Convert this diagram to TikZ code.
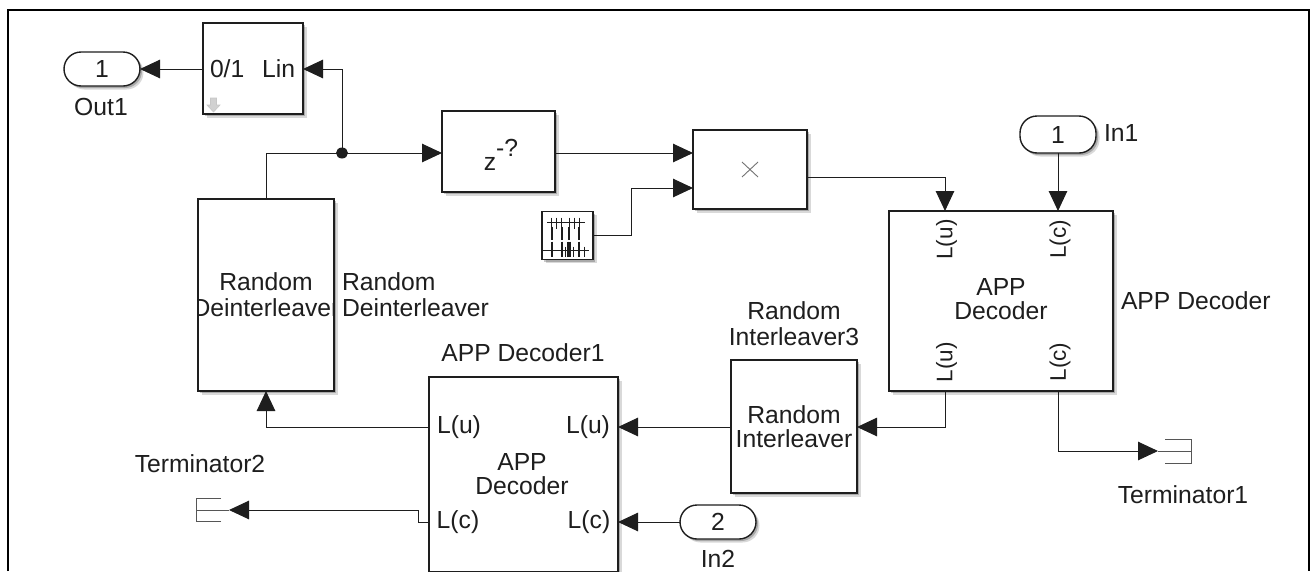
\documentclass[tikz,border=0pt]{standalone}
\usepackage{fontspec}
\setmainfont{Liberation Sans}
\usetikzlibrary{arrows.meta,shadows,calc}
\definecolor{ink}{HTML}{1E1E1E}
\newcommand{\lblfont}{\fontsize{24.7}{27}\selectfont}
\newcommand{\rotfont}{\fontsize{22.5}{24}\selectfont}
\tikzset{
  softshadow/.style={
    general shadow={fill=black,opacity=.15,shadow xshift=3.5pt,shadow yshift=-3.5pt},
    general shadow={fill=black,opacity=.22,shadow xshift=2pt,shadow yshift=-2pt}},
  block/.style={draw=ink,line width=1.7pt,fill=white,inner sep=0pt,outer sep=0pt,softshadow,font=\lblfont,text=ink},
  pill/.style={block,rounded corners=17pt,line width=1.4pt},
  label/.style={inner sep=0pt,outer sep=0pt,font=\lblfont,text=ink,align=center},
  portv/.style={inner sep=0pt,outer sep=0pt,font=\rotfont,text=ink,rotate=90},
  wire/.style={draw=ink,line width=1pt},
  arrowwire/.style={wire,-{Triangle[length=20pt,width=18.5pt]}},
  stub/.style={draw=ink!75,line width=1pt},
  tick/.style={draw=ink,line width=.8pt},
  thick tick/.style={draw=ink,line width=2.2pt}
}
\begin{document}
\begin{tikzpicture}[x=1pt,y=-1pt]
\useasboundingbox (0,0) rectangle (1310,571);
\fill[white] (0,0) rectangle (1310,571);
\draw[black,line width=2.8pt] (8,571) -- (8,10) -- (1309,10) -- (1309,571);

% blocks
\node[pill,minimum width=76pt,minimum height=34pt] (out1) at (102,69) {1};
\node[block,minimum width=100pt,minimum height=91pt] (conv) at (253,68.5) {};
\node[block,minimum width=136pt,minimum height=192pt] (rdi) at (266,295) {};
\node[block,minimum width=113pt,minimum height=81pt] (delay) at (498.5,151.5) {};
\node[block,minimum width=114pt,minimum height=79pt] (prod) at (750,169.5) {};
\node[block,minimum width=51pt,minimum height=48pt,line width=1.7pt] (pulse) at (567.5,235.5) {};
\node[block,minimum width=224pt,minimum height=180pt] (app) at (1001,301) {};
\node[pill,minimum width=76pt,minimum height=37pt] (in1) at (1058,134.5) {1};
\node[block,minimum width=126pt,minimum height=133pt] (ril) at (794,426.5) {};
\node[block,minimum width=189pt,minimum height=195pt] (app1) at (523.5,474.5) {};
\node[pill,minimum width=76pt,minimum height=34pt] (in2) at (718,522) {2};

% block texts
\node[label] (pz) at (501,155) {z\raisebox{14pt}{-?}};
\node[label,anchor=base west] (p01) at (210,77.5) {0/1};
\node[label,anchor=base east] (plin) at (295,77.5) {Lin};
\begin{scope}
  \clip (rdi.south west) rectangle (rdi.north east);
  \node[label] (trdi) at (266,294.5) {Random\\[-.5pt]Deinterleaver};
\end{scope}
\node[label] (tril) at (794,427) {Random\\[-3pt]Interleaver};
\node[label] (tapp) at (1001,299) {APP\\[-3pt]Decoder};
\node[label] (tapp1) at (522,474) {APP\\[-3pt]Decoder};
\node[portv] (pau1) at (946.5,239.5) {L(u)};
\node[portv] (pac1) at (1060,239.5) {L(c)};
\node[portv] (pau2) at (946.5,362) {L(u)};
\node[portv] (pac2) at (1060,362) {L(c)};
\node[label] (pbu1) at (459,427) {L(u)};
\node[label] (pbu2) at (588,427) {L(u)};
\node[label] (pbc1) at (458,522) {L(c)};
\node[label] (pbc2) at (589,522) {L(c)};

% icons
\draw[draw=black!55,line width=.9pt] ($(prod.center)+(-8,-7.5)$) -- ($(prod.center)+(8,7.5)$)
  ($(prod.center)+(8,-7.5)$) -- ($(prod.center)+(-8,7.5)$);
\draw[draw=black!22,fill=black!18,line width=.6pt] (210.5,98) -- (216.5,98) -- (216.5,105) -- (220,105) -- (213.5,112) -- (207,105) -- (210.5,105) -- cycle;
\begin{scope}[shift={(pulse.north west)}]
  \draw[tick] (5,11) -- (43,11) (1,39) -- (47,39);
  \foreach \x in {9,14,19,27,32,37} \draw[tick] (\x,6) -- (\x,17);
  \foreach \x in {10,20,27,37} \draw[thick tick] (\x,15) -- (\x,28);
  \foreach \x in {10,20,26,28,37} \draw[thick tick] (\x,30) -- (\x,45);
  \foreach \x in {23,31,42} \draw[tick] (\x,35) -- (\x,45);
\end{scope}

% terminators
\coordinate (t1) at (1191,451);
\coordinate (t2) at (196,510);
\draw[stub] (1165,439) -| (t1) (1165,463) -| (t1);
\draw[stub] (t1) -- (1158,451);
\draw[stub] (221,498) -| (t2) (221,521) -| (t2);
\draw[stub] (t2) -- (229,510);

% junction and named ports
\coordinate (jn) at (342,153);
\coordinate (rdiOut) at (rdi.north);
\coordinate (prodA) at (prod.west |- 0,153);
\coordinate (prodB) at (prod.west |- 0,188);
\coordinate (appU) at (945,211);
\coordinate (appU2) at (945,391);
\coordinate (appC) at (in1.south);
\coordinate (appC2) at (1058,391);
\coordinate (app1U) at (app1.east |- 0,427);
\coordinate (app1C) at (app1.east |- 0,522);
\coordinate (app1L) at (app1.west |- 0,427);
\coordinate (app1M) at (app1.west |- 0,522);

% connectors
\draw[arrowwire] (conv.west |- 0,69) -- (out1.east |- 0,69);
\draw[arrowwire] (jn) |- (conv.east |- 0,69);
\draw[arrowwire] (rdiOut) |- (delay.west |- 0,153);
\fill[ink] (jn) ellipse (6pt and 5.5pt);
\draw[arrowwire] (delay.east |- 0,153) -- (prodA);
\draw[arrowwire] (pulse.east) -- ++(38,0) |- (prodB);
\draw[arrowwire] (prod.east |- 0,177) -| (appU);
\draw[arrowwire] (in1.south) -- (1058,211);
\draw[arrowwire] (appU2) |- (ril.east |- 0,427);
\draw[arrowwire] (appC2) |- (1158,451);
\draw[arrowwire] (ril.west |- 0,427) -- (app1U);
\draw[arrowwire] (in2.west) -- (app1C);
\draw[arrowwire] (app1L) -| (rdi.south);
\draw[arrowwire] (app1M) -- (418,522) -- (418,510) -- (229,510);

% block names
\node[label] (lout1) at (101,107) {Out1};
\node[label,anchor=west,align=left] (lrdi) at (342,294.5) {Random\\[-.5pt]Deinterleaver};
\node[label,anchor=west] (lin1) at (1104,133) {In1};
\node[label,anchor=west] (lapp) at (1121,301) {APP Decoder};
\node[label] (lril) at (794,323.5) {Random\\[-.5pt]Interleaver3};
\node[label] (lapp1) at (523,353) {APP Decoder1};
\node[label] (lt2) at (200,464) {Terminator2};
\node[label] (lt1) at (1183,495) {Terminator1};
\node[label] (lin2) at (718,559) {In2};
\end{tikzpicture}
\end{document}
